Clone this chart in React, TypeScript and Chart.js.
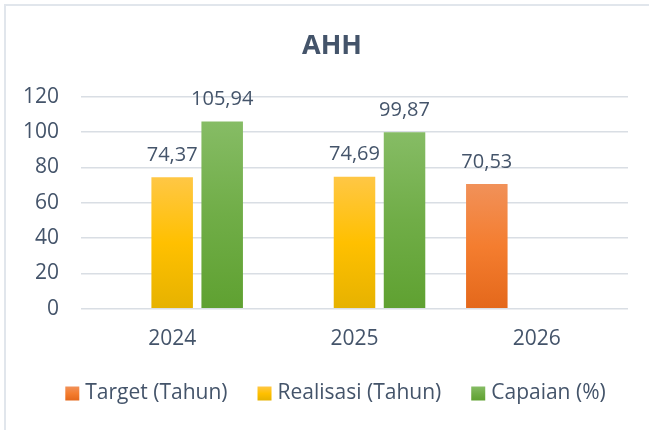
import React, { useEffect, useRef } from 'react';
import { Chart, registerables } from 'chart.js';

Chart.register(...registerables);

const categories = ['2024', '2025', '2026'];
const seriesNames = ['Target (Tahun)', 'Realisasi (Tahun)', 'Capaian (%)'];
const targetValues: (number | null)[] = [null, null, 70.53];
const realisasiValues: (number | null)[] = [74.37, 74.69, null];
const capaianValues: (number | null)[] = [105.94, 99.87, null];
const yMin = 0;
const yMax = 120;
const yStep = 20;
const titleText = 'AHH';

const TEXT = '#44546A';
const FONT = "'Open Sans', sans-serif";

const orangeStops: [number, string][] = [[0, '#F19159'], [0.5, '#F47D2F'], [1, '#E4681B']];
const yellowStops: [number, string][] = [[0, '#FFC745'], [0.5, '#FFC000'], [1, '#E6B200']];
const greenStops: [number, string][] = [[0, '#86BC65'], [0.5, '#70AD47'], [1, '#5FA131']];
const seriesStops = [orangeStops, yellowStops, greenStops];

function makeGradient(ctx: CanvasRenderingContext2D, top: number, bottom: number, stops: [number, string][]) {
  const g = ctx.createLinearGradient(0, top, 0, bottom);
  stops.forEach(([o, c]) => g.addColorStop(o, c));
  return g;
}

function gradientFor(stops: [number, string][]) {
  return (ctx: any) => {
    const chart = ctx.chart;
    if (!chart.chartArea || ctx.type !== 'data' || ctx.raw == null) return stops[1][1];
    const y = chart.scales.y;
    return makeGradient(chart.ctx, y.getPixelForValue(ctx.raw), y.getPixelForValue(0), stops);
  };
}

const dataLabels = {
  id: 'dataLabels',
  afterDatasetsDraw(chart: any) {
    const ctx = chart.ctx;
    ctx.save();
    ctx.font = `20px ${FONT}`;
    ctx.fillStyle = TEXT;
    ctx.textAlign = 'center';
    ctx.textBaseline = 'alphabetic';
    chart.data.datasets.forEach((ds: any, i: number) => {
      const meta = chart.getDatasetMeta(i);
      meta.data.forEach((bar: any, j: number) => {
        const v = ds.data[j];
        if (v == null) return;
        ctx.fillText(v.toFixed(2).replace('.', ','), bar.x, bar.y - 16.5);
      });
    });
    ctx.restore();
  },
};

const titleAndLegend = {
  id: 'titleAndLegend',
  afterDraw(chart: any) {
    const ctx = chart.ctx;
    ctx.save();
    // title
    ctx.font = `bold 27px ${FONT}`;
    ctx.fillStyle = TEXT;
    ctx.textAlign = 'center';
    ctx.textBaseline = 'alphabetic';
    ctx.fillText(titleText, 332, 54);
    // legend
    ctx.font = `21px ${FONT}`;
    const box = 14;
    const gapBox = 6;
    const gapItem = 30;
    const widths = seriesNames.map((n) => ctx.measureText(n).width);
    const total = widths.reduce((a, w) => a + box + gapBox + w, 0) + gapItem * (seriesNames.length - 1);
    let x = 335.5 - total / 2;
    const cy = 393.5;
    ctx.textAlign = 'left';
    ctx.textBaseline = 'middle';
    seriesNames.forEach((n, i) => {
      ctx.fillStyle = makeGradient(ctx, cy - box / 2, cy + box / 2, seriesStops[i]);
      ctx.fillRect(x, cy - box / 2, box, box);
      x += box + gapBox;
      ctx.fillStyle = TEXT;
      ctx.fillText(n, x, cy);
      x += widths[i] + gapItem;
    });
    ctx.restore();
  },
};

export default function App() {
  const ref = useRef<HTMLCanvasElement>(null);
  useEffect(() => {
    const chart = new Chart(ref.current as HTMLCanvasElement, {
      type: 'bar',
      data: {
        labels: categories,
        datasets: [
          { label: seriesNames[0], data: targetValues, backgroundColor: gradientFor(orangeStops) },
          { label: seriesNames[1], data: realisasiValues, backgroundColor: gradientFor(yellowStops) },
          { label: seriesNames[2], data: capaianValues, backgroundColor: gradientFor(greenStops) },
        ],
      },
      options: {
        responsive: false,
        animation: false,
        datasets: { bar: { barPercentage: 0.83, categoryPercentage: 0.823 } },
        layout: { padding: { left: 0, right: 21, top: 96.7, bottom: 76.3 } },
        plugins: {
          title: { display: false },
          legend: { display: false },
          tooltip: { enabled: false },
        },
        scales: {
          x: {
            grid: { display: false, drawTicks: false },
            border: { display: false },
            ticks: { color: TEXT, font: { family: FONT, size: 21 }, padding: 18 },
            afterFit: (s: any) => { s.height = 45; },
          },
          y: {
            min: yMin,
            max: yMax,
            ticks: { stepSize: yStep, autoSkip: false, color: TEXT, font: { family: FONT, size: 21 }, padding: 22 },
            grid: { color: '#D9DEE4', lineWidth: 1.5, drawTicks: false },
            border: { display: false },
            afterFit: (s: any) => { s.width = 81; },
          },
        },
      } as any,
      plugins: [dataLabels, titleAndLegend],
    });
    return () => chart.destroy();
  }, []);
  return (
    <div style={{ position: 'fixed', left: 0, top: 0, width: 649, height: 430, overflow: 'hidden', background: '#fff' }}>
      <div
        style={{
          position: 'absolute',
          left: 4,
          top: 4,
          width: 700,
          height: 500,
          border: '2px solid #E1E6EC',
          boxSizing: 'border-box',
        }}
      />
      <canvas ref={ref} width={649} height={430} style={{ position: 'absolute', left: 0, top: 0 }} />
    </div>
  );
}
